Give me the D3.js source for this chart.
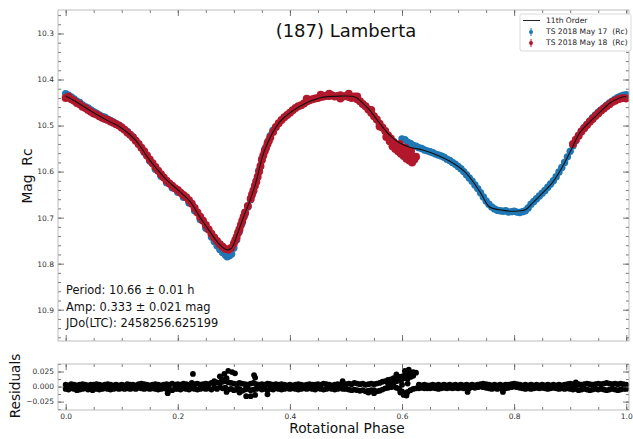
<!DOCTYPE html>
<html><head><meta charset="utf-8">
<script src="https://cdn.jsdelivr.net/npm/d3@7"></script>
<style>body{margin:0;background:#fff}svg{display:block;font-family:"DejaVu Sans",sans-serif}</style>
</head><body><svg id="c" width="633" height="439"></svg>
<script>
// ---------------- data ----------------
const title = "(187) Lamberta";
const xLabel = "Rotational Phase";
const yLabel = "Mag  Rc";
const residLabel = "Residuals";
const notes = ["Period: 10.66 \u00b1 0.01 h", "Amp: 0.333 \u00b1 0.021 mag", "JDo(LTC): 2458256.625199"];
const legendLabels = ["11th Order", "TS 2018 May 17  (Rc)", "TS 2018 May 18  (Rc)"];

const phaseTicks = [0.0, 0.2, 0.4, 0.6, 0.8, 1.0];
const magTicks = [10.3, 10.4, 10.5, 10.6, 10.7, 10.8, 10.9];
const residTicks = [-0.025, 0.0, 0.025];

// 11th order Fourier fit
const fitPhase = [0,0.022,0.047,0.079,0.097,0.124,0.150,0.177,0.204,0.222,0.239,0.257,0.275,0.288,0.296,0.307,0.320,0.329,0.339,0.355,0.382,0.418,0.453,0.489,0.516,0.528,0.542,0.560,0.578,0.596,0.614,0.637,0.662,0.690,0.714,0.739,0.756,0.774,0.797,0.820,0.833,0.851,0.869,0.886,0.904,0.917,0.935,0.953,0.971,0.988,1.0];
const fitMag = [10.436,10.451,10.470,10.492,10.503,10.531,10.575,10.614,10.644,10.665,10.698,10.730,10.759,10.770,10.766,10.733,10.690,10.662,10.625,10.553,10.492,10.458,10.440,10.436,10.438,10.449,10.466,10.495,10.521,10.538,10.547,10.553,10.564,10.581,10.603,10.644,10.677,10.683,10.686,10.683,10.668,10.646,10.623,10.590,10.547,10.516,10.492,10.471,10.451,10.440,10.437];

// TS 2018 May 17 (Rc) observations [phase, mag]
const may17 = [[0.000,10.431],[0.005,10.434],[0.010,10.438],[0.015,10.442],[0.020,10.447],[0.025,10.450],[0.030,10.455],[0.035,10.459],[0.040,10.462],[0.045,10.466],[0.050,10.470],[0.055,10.473],[0.060,10.477],[0.065,10.480],[0.070,10.482],[0.075,10.486],[0.080,10.489],[0.085,10.492],[0.090,10.496],[0.095,10.500],[0.100,10.503],[0.110,10.513],[0.120,10.525],[0.130,10.540],[0.140,10.558],[0.150,10.577],[0.160,10.595],[0.170,10.610],[0.180,10.624],[0.190,10.635],[0.200,10.645],[0.210,10.656],[0.220,10.668],[0.230,10.685],[0.240,10.704],[0.250,10.723],[0.260,10.742],[0.265,10.752],[0.270,10.761],[0.275,10.769],[0.280,10.776],[0.285,10.781],[0.288,10.785],[0.292,10.783],[0.296,10.779],[0.300,10.766],[0.305,10.748],[0.310,10.730],[0.315,10.711],[0.320,10.693],[0.325,10.677],[0.330,10.661],[0.335,10.642],[0.340,10.620],[0.345,10.597],[0.350,10.572],[0.355,10.552],[0.360,10.536],[0.365,10.522],[0.370,10.510],
[0.600,10.529],[0.605,10.531],[0.610,10.536],[0.615,10.539],[0.620,10.543],[0.625,10.545],[0.630,10.548],[0.635,10.550],[0.640,10.553],[0.645,10.555],[0.650,10.557],[0.655,10.559],[0.660,10.562],[0.665,10.564],[0.670,10.566],[0.675,10.569],[0.680,10.573],[0.685,10.576],[0.690,10.580],[0.695,10.584],[0.700,10.589],[0.705,10.594],[0.710,10.600],[0.715,10.607],[0.720,10.614],[0.725,10.621],[0.730,10.629],[0.735,10.637],[0.740,10.646],[0.745,10.655],[0.750,10.664],[0.755,10.671],[0.760,10.677],[0.765,10.681],[0.770,10.684],[0.775,10.685],[0.780,10.686],[0.785,10.685],[0.790,10.688],[0.795,10.687],[0.800,10.686],[0.805,10.688],[0.810,10.689],[0.815,10.687],[0.820,10.685],[0.825,10.679],[0.830,10.671],[0.835,10.665],[0.840,10.659],[0.845,10.653],[0.850,10.647],[0.855,10.641],[0.860,10.634],[0.865,10.627],[0.870,10.620],[0.875,10.611],[0.880,10.601],[0.885,10.591],[0.890,10.580],[0.895,10.568],[0.900,10.556],[0.905,10.544],[0.910,10.533],[0.915,10.522],[0.920,10.512],[0.925,10.504],[0.930,10.497],[0.935,10.490],[0.940,10.483],[0.945,10.477],[0.950,10.471],[0.955,10.466],[0.960,10.461],[0.965,10.456],[0.970,10.451],[0.975,10.447],[0.980,10.443],[0.985,10.439],[0.990,10.436],[0.995,10.434],[1.000,10.433]];

// TS 2018 May 18 (Rc) observations [phase, mag]
const may18 = [[0.000,10.440],[0.005,10.437],[0.010,10.443],[0.015,10.446],[0.020,10.451],[0.025,10.454],[0.030,10.459],[0.035,10.462],[0.040,10.466],[0.045,10.470],[0.050,10.474],[0.055,10.476],[0.060,10.480],[0.065,10.483],[0.070,10.486],[0.075,10.488],[0.080,10.491],[0.085,10.494],[0.090,10.497],[0.095,10.500],[0.100,10.505],[0.105,10.509],[0.110,10.515],[0.115,10.520],[0.120,10.526],[0.125,10.533],[0.130,10.540],[0.135,10.548],[0.140,10.556],[0.145,10.565],[0.150,10.574],[0.155,10.582],[0.160,10.590],[0.165,10.598],[0.170,10.606],[0.175,10.613],[0.180,10.620],[0.185,10.626],[0.190,10.631],[0.195,10.636],[0.200,10.640],[0.205,10.646],[0.210,10.651],[0.215,10.656],[0.220,10.662],[0.225,10.670],[0.230,10.679],[0.235,10.689],[0.240,10.698],[0.245,10.707],[0.250,10.716],[0.255,10.726],[0.260,10.735],[0.265,10.743],[0.270,10.751],[0.275,10.758],[0.280,10.763],[0.285,10.768],[0.290,10.770],[0.295,10.766],[0.300,10.756],[0.305,10.742],[0.310,10.725],[0.315,10.707],[0.320,10.689],[0.325,10.675],[0.330,10.659],[0.335,10.641],[0.340,10.622],[0.345,10.600],[0.350,10.575],[0.355,10.556],[0.360,10.540],[0.365,10.526],[0.370,10.514],[0.375,10.503],[0.380,10.495],[0.385,10.488],[0.390,10.482],[0.395,10.477],[0.400,10.472],[0.405,10.467],[0.410,10.462],[0.415,10.458],[0.420,10.456],[0.425,10.452],[0.430,10.448],[0.435,10.445],[0.440,10.443],[0.445,10.441],[0.450,10.440],[0.455,10.438],[0.460,10.437],[0.465,10.435],[0.470,10.436],[0.475,10.434],[0.480,10.437],[0.485,10.436],[0.490,10.434],[0.495,10.437],[0.500,10.436],[0.505,10.438],[0.510,10.440],[0.515,10.437],[0.520,10.443],[0.525,10.447],[0.530,10.453],[0.535,10.458],[0.540,10.465],[0.545,10.472],[0.550,10.480],[0.555,10.487],[0.560,10.496],[0.565,10.504],[0.570,10.512],[0.575,10.521],[0.580,10.528],[0.585,10.536],[0.590,10.542],[0.595,10.548],[0.600,10.553],[0.605,10.558],[0.610,10.562],[0.615,10.566],[0.620,10.570],[0.625,10.568],
[0.3025,10.749],[0.3075,10.733],[0.3125,10.716],[0.3175,10.698],[0.3325,10.650],[0.3375,10.631],[0.3425,10.611],[0.3475,10.588],[0.3525,10.565],[0.3575,10.548],[0.3625,10.533],
[0.572,10.525],[0.578,10.534],[0.583,10.545],[0.588,10.551],[0.593,10.556],[0.598,10.561],[0.603,10.566],[0.608,10.572],[0.613,10.576],[0.618,10.580],[0.622,10.574],[0.596,10.540],[0.606,10.548],[0.616,10.556],
[0.430,10.442],[0.455,10.433],[0.470,10.431],[0.490,10.441],[0.505,10.431],[0.520,10.437],[0.545,10.466],[0.560,10.502],
[0.905,10.540],[0.910,10.531],[0.915,10.522],[0.920,10.513],[0.925,10.506],[0.930,10.499],[0.935,10.492],[0.940,10.486],[0.945,10.479],[0.950,10.474],[0.955,10.468],[0.960,10.463],[0.965,10.458],[0.970,10.454],[0.975,10.449],[0.980,10.446],[0.985,10.443],[0.990,10.441],[0.995,10.440],[1.000,10.441]];

// residuals (mmag), sampled every 0.005 in phase from 0 to 1: upper and lower edge of the band
const residStep = 0.005;
const residHi = [3,2,4,3,2,3,4,3,2,3, 3,4,3,2,3,4,3,2,3,2, 3,2,4,3,3,2,4,5,4,3, 2,3,4,3,2,3,4,3,5,3,
 4,3,5,4,3,6,4,5,3,4, 5,4,6,5,7,6,8,9,7,6, 5,4,6,5,4,3,5,6,4,3, 4,3,5,4,3,4,3,4,3,2,
 3,2,3,4,3,2,3,4,3,3, 4,3,5,4,3,2,3,4,3,2, 4,5,4,6,5,4,5,3,4,5, 4,5,6,8,9,11,12,14,15,16,
 17,19,20,22,24,23,3,2,3,2, 2,3,2,3,2,3,2,3,2,3, 2,3,2,3,2,3,2,3,4,5, 4,3,2,3,2,3,2,3,3,4,
 5,4,3,2,3,2,3,2,3,2, 3,2,3,2,3,2,3,2,3,4, 5,4,3,4,3,4,5,4,3,4, 5,4,5,6,5,4,5,4,5,4, 3];
const residLo = [-4,-5,-3,-4,-6,-5,-4,-3,-5,-4, -3,-4,-5,-4,-3,-4,-5,-4,-3,-4, -3,-4,-3,-4,-3,-4,-2,-3,-4,-3, -4,-3,-4,-5,-4,-3,-4,-5,-6,-4,
 -4,-5,-3,-4,-5,-3,-4,-5,-4,-3, -4,-3,-5,-2,-4,-1,-3,-2,-5,-4, -6,-5,-4,-7,-5,-4,-6,-5,-4,-3, -5,-4,-6,-4,-5,-3,-4,-5,-4,-3,
 -4,-3,-4,-5,-4,-3,-4,-3,-4,-5, -3,-4,-5,-4,-3,-4,-5,-4,-3,-4, -4,-5,-6,-5,-6,-7,-6,-8,-7,-6, -6,-8,-7,-5,-3,-2,-1,0,-2,-4,
 -8,-12,-9,-6,-4,-3,-3,-2,-3,-3, -3,-2,-3,-4,-3,-2,-3,-2,-3,-2, -3,-2,-3,-2,-3,-1,-2,-1,0,-1, -2,-3,-4,-3,-4,-3,-2,-3,-2,-1,
 0,-1,-2,-3,-4,-3,-4,-3,-2,-3, -2,-3,-4,-3,-2,-3,-4,-3,-4,-3, -4,-5,-4,-6,-5,-4,-5,-6,-5,-4, -5,-4,-5,-6,-5,-4,-5,-6,-5,-4, -4];
// scattered residual points [phase, mmag]
const residExtra = [[0.575,5],[0.58,7],[0.585,6],[0.59,9],[0.595,10],[0.60,12],[0.605,14],[0.61,13],[0.615,16],[0.62,18],[0.59,20],[0.605,26],[0.612,28],[0.60,3],[0.61,5],[0.603,-14],[0.608,-15],[0.597,-10],
 [0.227,21],[0.182,-11],[0.275,17],[0.283,21],[0.29,26],[0.297,24],[0.302,22],[0.287,14],[0.279,12],[0.287,-9],[0.322,-16],[0.33,-16],[0.338,-14],[0.336,19],[0.338,15],[0.36,-13],[0.362,4],[0.265,9],[0.31,-10],
 [0.494,9],[0.78,-9],[0.717,-9],[0.91,7],[0.048,-6],[0.54,-10],[0.55,-11]];

// ---------------- drawing ----------------
const svg = d3.select("#c");
svg.append("rect").attr("width", 633).attr("height", 439).attr("fill", "#fff");

const L = 58, R = 629, T1 = 10, B1 = 341, T2 = 364, B2 = 410;
const x = d3.scaleLinear().domain([-0.0137, 1.0049]).range([L, R]);
const y = d3.scaleLinear().domain([10.249, 10.968]).range([T1, B1]);
const yr = d3.scaleLinear().domain([0.0375, -0.039]).range([T2, B2]);

const blue = "#1f78b4", red = "#b2182b";
const frameColor = "#b5b5b5", tickColor = "#555";

const xMinor = d3.range(0, 21).map(i => +(i * 0.05).toFixed(2));
const yMinor = d3.range(0, 36).map(i => +(10.26 + i * 0.02).toFixed(2)).filter(v => v < 10.968);
const rMinor = d3.range(-3, 4).map(i => i * 0.0125);

function ticks(g) {
  g.select(".domain").remove();
  g.selectAll("line").attr("stroke", tickColor).attr("stroke-width", 0.8);
  g.selectAll("text").attr("fill", "#333").attr("font-size", "7.5px").attr("font-family", "DejaVu Sans");
}
function panelAxes(yScale, top, bottom, majorY, minorY, labelX, fmtY) {
  svg.append("g").attr("transform", `translate(0,${bottom})`).call(d3.axisBottom(x).tickValues(xMinor).tickSize(-3).tickFormat("")).call(ticks);
  svg.append("g").attr("transform", `translate(0,${top})`).call(d3.axisTop(x).tickValues(xMinor).tickSize(-3).tickFormat("")).call(ticks);
  svg.append("g").attr("transform", `translate(0,${bottom})`).call(d3.axisBottom(x).tickValues(phaseTicks).tickSize(-6).tickPadding(4).tickFormat(labelX ? d3.format(".1f") : "")).call(ticks);
  svg.append("g").attr("transform", `translate(0,${top})`).call(d3.axisTop(x).tickValues(phaseTicks).tickSize(-6).tickFormat("")).call(ticks);
  svg.append("g").attr("transform", `translate(${L},0)`).call(d3.axisLeft(yScale).tickValues(minorY).tickSize(-3).tickFormat("")).call(ticks);
  svg.append("g").attr("transform", `translate(${R},0)`).call(d3.axisRight(yScale).tickValues(minorY).tickSize(-3).tickFormat("")).call(ticks);
  svg.append("g").attr("transform", `translate(${L},0)`).call(d3.axisLeft(yScale).tickValues(majorY).tickSize(-6).tickPadding(4).tickFormat(fmtY)).call(ticks);
  svg.append("g").attr("transform", `translate(${R},0)`).call(d3.axisRight(yScale).tickValues(majorY).tickSize(-6).tickFormat("")).call(ticks);
  svg.append("rect").attr("x", L).attr("y", top).attr("width", R - L).attr("height", bottom - top)
    .attr("fill", "none").attr("stroke", frameColor).attr("stroke-width", 0.9);
}

// main panel
svg.append("clipPath").attr("id", "clipMain").append("rect").attr("x", L).attr("y", T1).attr("width", R - L).attr("height", B1 - T1);
const gm = svg.append("g").attr("clip-path", "url(#clipMain)");
gm.selectAll("circle.b").data(may17).join("circle").attr("class", "b")
  .attr("cx", d => x(d[0])).attr("cy", d => y(d[1])).attr("r", 3.7).attr("fill", blue);
gm.selectAll("circle.r").data(may18).join("circle").attr("class", "r")
  .attr("cx", d => x(d[0])).attr("cy", d => y(d[1])).attr("r", 4).attr("fill", red);
const fit = fitPhase.map((p, i) => [p, fitMag[i]]);
gm.append("path").datum(fit).attr("fill", "none").attr("stroke", "#111").attr("stroke-width", 1.1)
  .attr("d", d3.line().x(d => x(d[0])).y(d => y(d[1])).curve(d3.curveCatmullRom.alpha(0.5)));

panelAxes(y, T1, B1, magTicks, yMinor, false, d3.format(".1f"));

// residual panel
const resid = [];
residHi.forEach((v, i) => resid.push([i * residStep, v / 1000]));
residLo.forEach((v, i) => resid.push([i * residStep, v / 1000]));
residExtra.forEach(d => resid.push([d[0], d[1] / 1000]));
svg.append("g").selectAll("circle").data(resid).join("circle")
  .attr("cx", d => x(d[0])).attr("cy", d => yr(d[1])).attr("r", 2.9).attr("fill", "#000");

panelAxes(yr, T2, B2, residTicks, rMinor, true, d => d3.format(".3f")(d).replace("-", "\u2212"));

// texts
svg.append("text").attr("x", 346).attr("y", 37).attr("text-anchor", "middle")
  .attr("font-size", "18px").attr("fill", "#111").text(title);
notes.forEach((t, i) => svg.append("text").attr("x", 66).attr("y", 294 + i * 16.5)
  .attr("font-size", "11.4px").attr("fill", "#111").text(t));
svg.append("text").attr("x", 347).attr("y", 433).attr("text-anchor", "middle")
  .attr("font-size", "13.8px").attr("fill", "#111").text(xLabel);
svg.append("text").attr("transform", "translate(32,176) rotate(-90)").attr("text-anchor", "middle")
  .attr("font-size", "13.8px").attr("fill", "#111").style("white-space", "pre").text(yLabel);
svg.append("text").attr("transform", "translate(20,386) rotate(-90)").attr("text-anchor", "middle")
  .attr("font-size", "13.6px").attr("fill", "#111").text(residLabel);

// legend
const lg = svg.append("g");
lg.append("rect").attr("x", 520).attr("y", 14).attr("width", 111).attr("height", 37).attr("rx", 2)
  .attr("fill", "#fff").attr("stroke", "#d0d0d0").attr("stroke-width", 0.8);
lg.append("line").attr("x1", 523).attr("x2", 540).attr("y1", 20.5).attr("y2", 20.5).attr("stroke", "#222").attr("stroke-width", 1);
[[blue, 32], [red, 43]].forEach(([c, yy]) => {
  lg.append("line").attr("x1", 531).attr("x2", 531).attr("y1", yy - 4).attr("y2", yy + 4).attr("stroke", c).attr("stroke-width", 1);
  lg.append("circle").attr("cx", 531).attr("cy", yy).attr("r", 2).attr("fill", c);
});
legendLabels.forEach((t, i) => lg.append("text").attr("x", 546).attr("y", 23 + i * 11.2)
  .attr("font-size", "7.6px").attr("fill", "#222").style("white-space", "pre").text(t));
</script></body></html>
